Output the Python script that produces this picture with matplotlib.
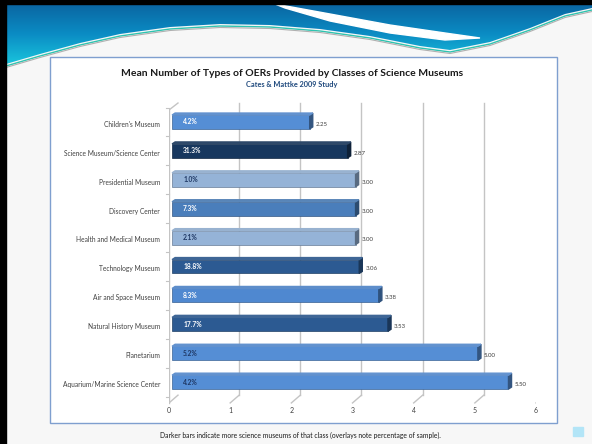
import matplotlib
matplotlib.use("Agg")
import matplotlib.pyplot as plt
import numpy as np
from matplotlib.patches import Polygon, Rectangle
from matplotlib.colors import LinearSegmentedColormap, to_rgb

# Data
categories = ["Children's Museum", "Science Museum/Science Center", "Presidential Museum",
              "Discovery Center", "Health and Medical Museum", "Technology Museum",
              "Air and Space Museum", "Natural History Museum", "Planetarium",
              "Aquarium/Marine Science Center"]
mean_types = [2.25, 2.87, 3.00, 3.00, 3.00, 3.06, 3.38, 3.53, 5.00, 5.50]
sample_share = ["4.2%", "31.3%", "1.0%", "7.3%", "2.1%", "18.8%", "8.3%", "17.7%", "5.2%", "4.2%"]
x_ticks = [0, 1, 2, 3, 4, 5, 6]

bar_colors = ["#558ed5", "#17375e", "#95b3d7", "#4a7ebb", "#95b3d7",
              "#2c5a92", "#4f88d0", "#2c5a92", "#558ed5", "#558ed5"]
share_colors = ["white", "white", "#1f3864", "white", "#1f3864",
                "white", "white", "white", "#1f3864", "#1f3864"]

W, H = 592, 444
fig = plt.figure(figsize=(W / 100, H / 100), dpi=100)
plt.rcParams['font.family'] = ['Lato', 'DejaVu Sans']

# slide background in pixel coordinates
bg = fig.add_axes([0, 0, 1, 1])
bg.set_xlim(0, W)
bg.set_ylim(H, 0)
bg.axis('off')
bg.add_patch(Rectangle((0, 0), W, H, color="#f7f7f7", zorder=0))

# header wave
lower = [(592, 8), (565, 14), (530, 28), (490, 42), (450, 50), (420, 46), (370, 36),
         (320, 29), (270, 25), (220, 24), (170, 27), (120, 34), (80, 43), (40, 54), (6, 64)]
wave = Polygon([(6, 4), (592, 4)] + lower, closed=True, facecolor='none', edgecolor='none')
bg.add_patch(wave)
cmap = LinearSegmentedColormap.from_list("hdr", ["#0a66a2", "#0b8cc4", "#19c3dc"])
grad = np.linspace(0, 1, 100).reshape(-1, 1)
img = bg.imshow(grad, cmap=cmap, extent=(6, 592, 64, 4), aspect='auto', zorder=1)
img.set_clip_path(wave)

swoosh = [(275, 4), (330, 14), (390, 25), (445, 33), (480, 38),
          (445, 40), (390, 33), (330, 21), (285, 8)]
bg.add_patch(Polygon(swoosh, closed=True, color="white", zorder=2))
lx, ly = zip(*lower[::-1])
bg.plot(np.array(lx), np.array(ly) + 2, color="#2ec4b0", lw=1.0, zorder=2)
bg.plot(np.array(lx), np.array(ly) + 3.5, color="#b0b0b0", lw=0.8, zorder=2)

# black frame on top and left
bg.add_patch(Rectangle((0, 0), W, 4, color="black", zorder=3))
bg.add_patch(Rectangle((0, 0), 6, H, color="black", zorder=3))

# chart box
bg.add_patch(Rectangle((50, 57), 507, 366, facecolor="white", edgecolor="#7f9fcf", lw=1, zorder=3))
bg.add_patch(Rectangle((573, 427), 10, 9, color="#b3e5f7", zorder=3))

fig.text(292 / W, 1 - 73 / H, "Mean Number of Types of OERs Provided by Classes of Science Museums",
         ha='center', va='center', fontsize=7.5, fontweight='bold', color="#1a1a1a")
fig.text(292 / W, 1 - 85 / H, "Cates & Mattke 2009 Study",
         ha='center', va='center', fontsize=5.3, fontweight='bold', color="#1f497d")
fig.text(300 / W, 1 - 435 / H,
         "Darker bars indicate more science museums of that class (overlays note percentage of sample).",
         ha='center', va='center', fontsize=4.9, color="#1a1a1a")

# chart axes: value 0 at px 169, 6 at px 536; bar centres from px 122 every 28.9 px
ax = fig.add_axes([169 / W, 1 - 420 / H, 367 / W, 320 / H])
ax.set_xlim(0, 6)
ax.set_ylim(10.31, -0.761)
ax.axis('off')
ax.patch.set_alpha(0)

dx, dy = 0.147, 0.277
y_top, y_back, y_front = -0.657, 9.45, 9.72
grid_c = "#c4c4c4"
for k in x_ticks:
    if k > 0:
        ax.plot([k + dx, k + dx], [y_top, y_back], color=grid_c, lw=1.0, zorder=1)
    ax.plot([k, k + dx], [y_front, y_back], color=grid_c, lw=1.0, zorder=1)
    ax.text(k, 9.97, str(k), ha='center', va='center', fontsize=5, color="#404040")
ax.plot([0, 0], [-0.415, y_front], color=grid_c, lw=1.0, zorder=1)
ax.plot([0, dx], [-0.415, y_top], color=grid_c, lw=1.0, zorder=1)
for i in range(len(categories) + 1):
    ax.plot([-0.05, 0], [i - 0.5, i - 0.5], color=grid_c, lw=0.8, clip_on=False)

h = 0.48
ys = np.arange(len(categories))
bars = ax.barh(ys, mean_types, height=h, left=0.05, color=bar_colors, zorder=3)
for bar, c in zip(bars, bar_colors):
    r, g, b = to_rgb(c)
    bar.set_edgecolor((r * 0.7, g * 0.7, b * 0.7))
    bar.set_linewidth(0.5)
    x0 = bar.get_x()
    x1 = x0 + bar.get_width()
    yt = bar.get_y()
    yb = yt + bar.get_height()
    side = Polygon([(x1, yt), (x1, yb), (x1 + 0.05, yb - 0.07), (x1 + 0.05, yt - 0.07)],
                   closed=True, color=(r * 0.6, g * 0.6, b * 0.6), zorder=3)
    top = Polygon([(x0, yt), (x1, yt), (x1 + 0.05, yt - 0.07), (x0 + 0.05, yt - 0.07)],
                  closed=True, color=(min(1, r * 0.85 + 0.1), min(1, g * 0.85 + 0.1), min(1, b * 0.85 + 0.1)),
                  zorder=3)
    ax.add_patch(side)
    ax.add_patch(top)

for i, (cat, v, s) in enumerate(zip(categories, mean_types, sample_share)):
    ax.text(-0.147, i + 0.08, cat, ha='right', va='center', fontsize=4.8, color="#404040",
            clip_on=False)
    ax.text(v + 0.15, i + 0.08, f"{v:.2f}", ha='left', va='center', fontsize=4.4, color="#404040")
    ax.text(0.23, i, s, ha='left', va='center', fontsize=4.8, fontweight='bold',
            color=share_colors[i], zorder=4)

fig.savefig("out.png", dpi=100)
